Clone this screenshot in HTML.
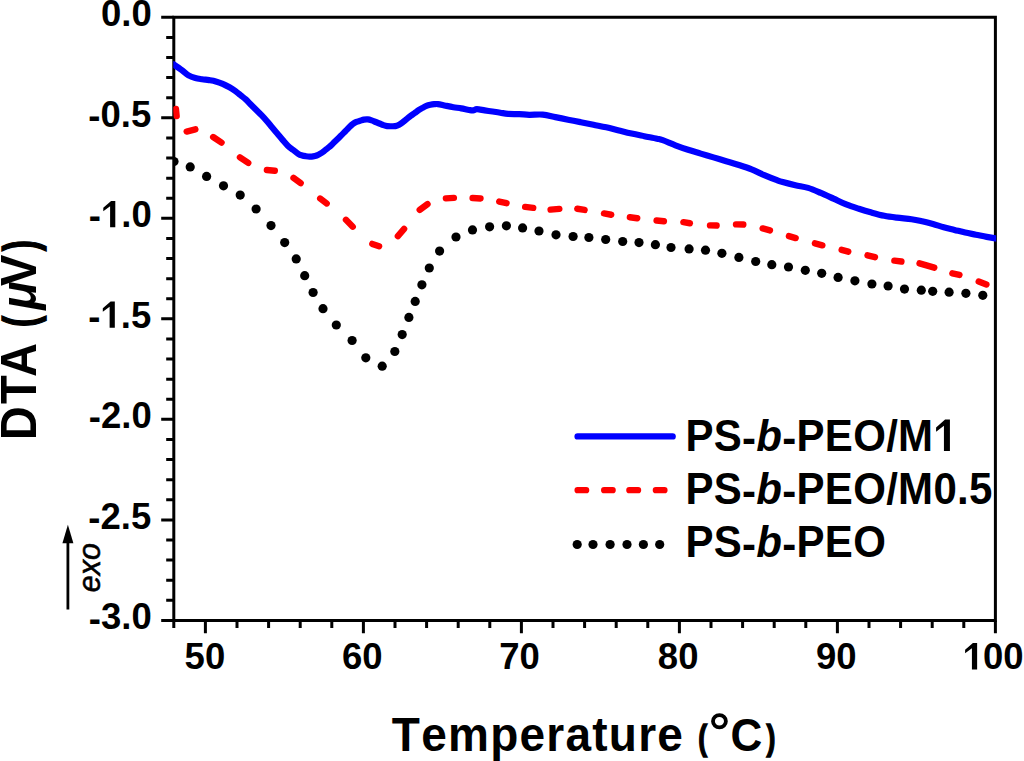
<!DOCTYPE html>
<html><head><meta charset="utf-8"><title>DTA chart</title>
<style>html,body{margin:0;padding:0;background:#fff;}body{width:1024px;height:761px;overflow:hidden;font-family:"Liberation Sans",sans-serif;}svg{display:block;}</style>
</head><body>
<svg width="1024" height="761" viewBox="0 0 1024 761" font-family="Liberation Sans, sans-serif" style="font-kerning:none">
<rect width="1024" height="761" fill="#fff"/>
<defs><clipPath id="pc"><rect x="173.3" y="0" width="822.9" height="761"/></clipPath></defs>
<path fill="none" stroke="#000" stroke-width="3" stroke-linecap="square" d="M173.8 17.3H995.4V620.4H173.8Z"/>
<path fill="none" stroke="#000" stroke-width="3" d="M161.2 17.3H173.8M166.2 37.4H173.8M166.2 57.51H173.8M166.2 77.61H173.8M166.2 97.71H173.8M161.2 117.82H173.8M166.2 137.92H173.8M166.2 158.02H173.8M166.2 178.13H173.8M166.2 198.23H173.8M161.2 218.33H173.8M166.2 238.44H173.8M166.2 258.54H173.8M166.2 278.64H173.8M166.2 298.75H173.8M161.2 318.85H173.8M166.2 338.95H173.8M166.2 359.06H173.8M166.2 379.16H173.8M166.2 399.26H173.8M161.2 419.37H173.8M166.2 439.47H173.8M166.2 459.57H173.8M166.2 479.68H173.8M166.2 499.78H173.8M161.2 519.88H173.8M166.2 539.99H173.8M166.2 560.09H173.8M166.2 580.19H173.8M166.2 600.3H173.8M161.2 620.4H173.8M173.8 620.4V627.9M205.4 620.4V633.2M237 620.4V627.9M268.6 620.4V627.9M300.2 620.4V627.9M331.8 620.4V627.9M363.4 620.4V633.2M395 620.4V627.9M426.6 620.4V627.9M458.2 620.4V627.9M489.8 620.4V627.9M521.4 620.4V633.2M553 620.4V627.9M584.6 620.4V627.9M616.2 620.4V627.9M647.8 620.4V627.9M679.4 620.4V633.2M711 620.4V627.9M742.6 620.4V627.9M774.2 620.4V627.9M805.8 620.4V627.9M837.4 620.4V633.2M869 620.4V627.9M900.6 620.4V627.9M932.2 620.4V627.9M963.8 620.4V627.9M995.4 620.4V633.2"/>
<g transform="translate(100.96 26.3) scale(1 1)" font-size="36.5"><text x="0" y="0" font-weight="bold">0</text><text x="20.3" y="0" font-weight="bold">.</text><text x="30.44" y="0" font-weight="bold">0</text></g>
<g transform="translate(88.32 126.82) scale(1 1)" font-size="36.5"><text x="0" y="1.1" font-weight="bold">-</text><text x="12.15" y="0" font-weight="bold">0</text><text x="32.45" y="0" font-weight="bold">.</text><text x="42.6" y="0" font-weight="bold">5</text></g>
<g transform="translate(88.8 227.33) scale(1 1)" font-size="36.5"><text x="0" y="1.1" font-weight="bold">-</text><text x="32.45" y="0" font-weight="bold">.</text><text x="42.6" y="0" font-weight="bold">0</text><path d="M26.5 0L26.5 -26.29L22.3 -26.29L14.49 -19.6L14.49 -16.09L21.3 -21.19L21.3 0Z"/></g>
<g transform="translate(88.32 327.85) scale(1 1)" font-size="36.5"><text x="0" y="1.1" font-weight="bold">-</text><text x="32.45" y="0" font-weight="bold">.</text><text x="42.6" y="0" font-weight="bold">5</text><path d="M26.5 0L26.5 -26.29L22.3 -26.29L14.49 -19.6L14.49 -16.09L21.3 -21.19L21.3 0Z"/></g>
<g transform="translate(88.8 428.37) scale(1 1)" font-size="36.5"><text x="0" y="1.1" font-weight="bold">-</text><text x="12.15" y="0" font-weight="bold">2</text><text x="32.45" y="0" font-weight="bold">.</text><text x="42.6" y="0" font-weight="bold">0</text></g>
<g transform="translate(88.32 528.88) scale(1 1)" font-size="36.5"><text x="0" y="1.1" font-weight="bold">-</text><text x="12.15" y="0" font-weight="bold">2</text><text x="32.45" y="0" font-weight="bold">.</text><text x="42.6" y="0" font-weight="bold">5</text></g>
<g transform="translate(88.8 629.4) scale(1 1)" font-size="36.5"><text x="0" y="1.1" font-weight="bold">-</text><text x="12.15" y="0" font-weight="bold">3</text><text x="32.45" y="0" font-weight="bold">.</text><text x="42.6" y="0" font-weight="bold">0</text></g>
<g transform="translate(184.59 669.4) scale(1 1)" font-size="36.5"><text x="0" y="0" font-weight="bold">5</text><text x="20.3" y="0" font-weight="bold">0</text></g>
<g transform="translate(342.03 669.4) scale(1 1)" font-size="36.5"><text x="0" y="0" font-weight="bold">6</text><text x="20.3" y="0" font-weight="bold">0</text></g>
<g transform="translate(499.26 669.4) scale(1 1)" font-size="36.5"><text x="0" y="0" font-weight="bold">7</text><text x="20.3" y="0" font-weight="bold">0</text></g>
<g transform="translate(657.87 669.4) scale(1 1)" font-size="36.5"><text x="0" y="0" font-weight="bold">8</text><text x="20.3" y="0" font-weight="bold">0</text></g>
<g transform="translate(815.92 669.4) scale(1 1)" font-size="36.5"><text x="0" y="0" font-weight="bold">9</text><text x="20.3" y="0" font-weight="bold">0</text></g>
<g transform="translate(962.78 669.4) scale(1 1)" font-size="36.5"><text x="20.3" y="0" font-weight="bold">0</text><text x="40.6" y="0" font-weight="bold">0</text><path d="M14.35 0L14.35 -26.29L10.14 -26.29L2.33 -19.6L2.33 -16.09L9.14 -21.19L9.14 0Z"/></g>
<g transform="translate(391.83 750.6) scale(1 1.03)" font-size="46"><text x="0" y="0" font-weight="bold">T</text><text x="29.34" y="0" font-weight="bold">e</text><text x="56.16" y="0" font-weight="bold">m</text><text x="98.3" y="0" font-weight="bold">p</text><text x="127.64" y="0" font-weight="bold">e</text><text x="154.46" y="0" font-weight="bold">r</text><text x="173.61" y="0" font-weight="bold">a</text><text x="200.43" y="0" font-weight="bold">t</text><text x="216.99" y="0" font-weight="bold">u</text><text x="246.33" y="0" font-weight="bold">r</text><text x="265.47" y="0" font-weight="bold">e</text></g>
<g font-weight="bold">
<text transform="translate(698.2 750.3) scale(0.74 0.97)" font-size="36" stroke="#000" stroke-width="1.5">(</text>
<text transform="translate(766.4 750.3) scale(0.74 0.97)" font-size="36" stroke="#000" stroke-width="1.5">)</text>
</g>
<ellipse cx="719.45" cy="721.25" rx="6.45" ry="6.05" fill="none" stroke="#000" stroke-width="3.8"/>
<g transform="translate(730.4 750.6) scale(1 1.04)" font-size="44"><text x="0" y="0" font-weight="bold">C</text></g>
<g transform="translate(36.1 0) rotate(-90) scale(1 1.07)" font-size="47"><text x="-440.34" y="0" font-weight="bold">D</text><text x="-403.93" y="0" font-weight="bold">T</text><text x="-377.07" y="0" font-weight="bold">A</text><text transform="translate(-327.04 0) scale(0.7 0.92)" stroke="#000" stroke-width="1.6" font-weight="bold">(</text><text x="-309.82" y="0" font-weight="bold" font-style="italic">μ</text><text x="-285.92" y="0" font-weight="bold">V</text><text transform="translate(-251.03 0) scale(0.7 0.92)" stroke="#000" stroke-width="1.6" font-weight="bold">)</text></g>
<path d="M67.9 609.5V540" stroke="#000" stroke-width="2.8" fill="none"/>
<path d="M67.9 524.8L62.4 543.3H73.4Z" fill="#000"/>
<g stroke="#000" stroke-width="0.55" transform="translate(99.8 592.13) rotate(-90) scale(1 1)" font-size="30.5"><text x="0" y="0" font-style="italic">e</text><text x="16.96" y="0" font-style="italic">x</text><text x="32.21" y="0" font-style="italic">o</text></g>
<path d="M577.65 436.4H672.6" stroke="#0000ff" stroke-width="6.4" stroke-linecap="round"/>
<path d="M577.55 490.2H586.2M604.1 490.2H612.7M629.3 490.2H638.1M655.8 490.2H664.5" stroke="#ff0000" stroke-width="6.2" stroke-linecap="round"/>
<g fill="#000"><circle cx="577.2" cy="544.5" r="4.6"/><circle cx="593" cy="544.5" r="4.6"/><circle cx="610.1" cy="544.5" r="4.6"/><circle cx="627" cy="544.5" r="4.6"/><circle cx="643.4" cy="544.5" r="4.6"/><circle cx="659.7" cy="544.5" r="4.6"/></g>
<g transform="translate(685.4 451) scale(1 1.04)" font-size="42"><text x="0" y="0" font-weight="bold">P</text><text x="28.31" y="0" font-weight="bold">S</text><text x="56.63" y="1.6" font-weight="bold">-</text><text x="70.91" y="0" font-weight="bold" font-style="italic">b</text><text x="96.87" y="1.6" font-weight="bold">-</text><text x="111.16" y="0" font-weight="bold">P</text><text x="139.47" y="0" font-weight="bold">E</text><text x="167.78" y="0" font-weight="bold">O</text><text x="200.75" y="0" font-weight="bold">/</text><text x="212.72" y="0" font-weight="bold">M</text><path d="M264.52 0L264.52 -30.25L259.68 -30.25L250.69 -22.56L250.69 -18.52L258.53 -24.38L258.53 0Z"/></g>
<g transform="translate(685.4 504.4) scale(1 1.04)" font-size="42"><text x="0" y="0" font-weight="bold">P</text><text x="28.31" y="0" font-weight="bold">S</text><text x="56.63" y="1.6" font-weight="bold">-</text><text x="70.91" y="0" font-weight="bold" font-style="italic">b</text><text x="96.87" y="1.6" font-weight="bold">-</text><text x="111.16" y="0" font-weight="bold">P</text><text x="139.47" y="0" font-weight="bold">E</text><text x="167.78" y="0" font-weight="bold">O</text><text x="200.75" y="0" font-weight="bold">/</text><text x="212.72" y="0" font-weight="bold">M</text><text x="248.01" y="0" font-weight="bold">0</text><text x="271.67" y="0" font-weight="bold">.</text><text x="283.63" y="0" font-weight="bold">5</text></g>
<g transform="translate(685.4 557) scale(1 1.04)" font-size="42"><text x="0" y="0" font-weight="bold">P</text><text x="28.31" y="0" font-weight="bold">S</text><text x="56.63" y="1.6" font-weight="bold">-</text><text x="70.91" y="0" font-weight="bold" font-style="italic">b</text><text x="96.87" y="1.6" font-weight="bold">-</text><text x="111.16" y="0" font-weight="bold">P</text><text x="139.47" y="0" font-weight="bold">E</text><text x="167.78" y="0" font-weight="bold">O</text></g>
<g clip-path="url(#pc)">
<path fill="none" stroke="#0000ff" stroke-width="6.2" stroke-linejoin="round" stroke-linecap="round" d="M173.5 64.35C174.87 65.29 179.2 68.17 181.7 70C184.2 71.83 186.23 73.97 188.5 75.3C190.77 76.63 193.02 77.35 195.3 78C197.58 78.65 199.92 78.85 202.2 79.2C204.48 79.55 206.73 79.73 209 80.1C211.27 80.47 213.52 80.78 215.8 81.4C218.08 82.02 220.42 82.82 222.7 83.8C224.98 84.78 227.4 86.1 229.5 87.3C231.6 88.5 233.47 89.68 235.3 91C237.13 92.32 238.75 93.8 240.5 95.2C242.25 96.6 244.05 97.82 245.8 99.4C247.55 100.98 249.25 102.93 251 104.7C252.75 106.47 254.55 108.25 256.3 110C258.05 111.75 259.75 113.37 261.5 115.2C263.25 117.03 265.05 118.98 266.8 121C268.55 123.02 270.25 125.2 272 127.3C273.75 129.4 275.53 131.5 277.3 133.6C279.07 135.7 280.85 137.88 282.6 139.9C284.35 141.92 286.05 144.03 287.8 145.7C289.55 147.37 291.3 148.5 293.1 149.9C294.9 151.3 297.08 153.17 298.6 154.1C300.12 155.03 301 155.15 302.2 155.5C303.4 155.85 304.58 156.02 305.8 156.2C307.02 156.38 308.28 156.57 309.5 156.6C310.72 156.63 311.9 156.58 313.1 156.4C314.3 156.22 315.5 155.95 316.7 155.5C317.9 155.05 319.1 154.42 320.3 153.7C321.5 152.98 322.7 152.1 323.9 151.2C325.1 150.3 326.3 149.27 327.5 148.3C328.7 147.33 329.9 146.48 331.1 145.4C332.3 144.32 333.48 143 334.7 141.8C335.92 140.6 337.18 139.4 338.4 138.2C339.62 137 340.8 135.8 342 134.6C343.2 133.4 344.4 132.22 345.6 131C346.8 129.78 348 128.45 349.2 127.3C350.4 126.15 351.6 125 352.8 124.1C354 123.2 355.2 122.45 356.4 121.9C357.6 121.35 358.75 121.18 360 120.8C361.25 120.42 362.6 119.83 363.9 119.6C365.2 119.37 366.5 119.27 367.8 119.4C369.1 119.53 370.4 119.97 371.7 120.4C373 120.83 374.3 121.48 375.6 122C376.9 122.52 378.2 122.98 379.5 123.5C380.8 124.02 382.1 124.67 383.4 125.1C384.7 125.53 385.98 125.91 387.3 126.1C388.62 126.29 389.98 126.25 391.3 126.25C392.62 126.25 393.9 126.36 395.2 126.1C396.5 125.84 397.8 125.38 399.1 124.7C400.4 124.02 401.7 122.98 403 122C404.3 121.02 405.6 119.85 406.9 118.8C408.2 117.75 409.5 116.67 410.8 115.7C412.1 114.73 413.4 113.92 414.7 113C416 112.08 417.3 111.05 418.6 110.2C419.9 109.35 421.2 108.62 422.5 107.9C423.8 107.18 425.1 106.42 426.4 105.9C427.7 105.38 429 105.08 430.3 104.8C431.6 104.52 432.95 104.32 434.2 104.2C435.45 104.08 435.9 103.85 437.8 104.1C439.7 104.35 443 105.18 445.6 105.7C448.2 106.22 450.79 106.75 453.4 107.2C456.01 107.65 458.63 107.93 461.25 108.4C463.87 108.87 467.14 109.67 469.1 110C471.06 110.33 471.7 110.53 473 110.4C474.3 110.27 474.95 109.2 476.9 109.2C478.85 109.2 482.1 110.02 484.7 110.4C487.3 110.78 489.9 111.12 492.5 111.5C495.1 111.88 497.7 112.3 500.3 112.7C502.9 113.1 504.95 113.67 508.1 113.9C511.25 114.13 515.67 113.95 519.2 114.1C522.73 114.25 525.38 114.72 529.3 114.8C533.22 114.88 538.35 114.22 542.7 114.6C547.05 114.98 551.17 116.25 555.4 117.1C559.63 117.95 563.87 118.85 568.1 119.7C572.33 120.55 576.57 121.35 580.8 122.2C585.03 123.05 589.27 123.95 593.5 124.8C597.73 125.65 601.97 126.35 606.2 127.3C610.43 128.25 614.67 129.45 618.9 130.5C623.13 131.55 627.37 132.65 631.6 133.6C635.83 134.55 640.07 135.35 644.3 136.2C648.53 137.05 653.93 138.03 657 138.7C660.07 139.37 659.63 139.1 662.7 140.2C665.77 141.3 671.17 143.7 675.4 145.3C679.63 146.9 683.87 148.42 688.1 149.8C692.33 151.18 696.57 152.33 700.8 153.6C705.03 154.87 709.27 156.13 713.5 157.4C717.73 158.67 721.97 159.93 726.2 161.2C730.43 162.47 734.67 163.63 738.9 165C743.13 166.37 747.37 167.72 751.6 169.4C755.83 171.08 760.07 173.3 764.3 175.1C768.53 176.9 773.93 179.03 777 180.2C780.07 181.37 779.63 181.25 782.7 182.1C785.77 182.95 791.17 184.33 795.4 185.3C799.63 186.27 803.87 186.63 808.1 187.9C812.33 189.17 816.57 191.12 820.8 192.9C825.03 194.68 829.27 196.68 833.5 198.6C837.73 200.52 841.97 202.7 846.2 204.4C850.43 206.1 854.67 207.43 858.9 208.8C863.13 210.17 867.37 211.43 871.6 212.6C875.83 213.77 880.07 214.95 884.3 215.8C888.53 216.65 892.47 217.13 897 217.7C901.53 218.27 907.3 218.6 911.5 219.2C915.7 219.8 918.62 220.5 922.2 221.3C925.78 222.1 929.42 223.02 933 224C936.58 224.98 940.12 226.22 943.7 227.2C947.28 228.18 950.92 229 954.5 229.9C958.08 230.8 961.63 231.8 965.2 232.6C968.77 233.4 972.32 233.98 975.9 234.7C979.48 235.42 983.35 236.27 986.7 236.9C990.05 237.53 994.45 238.23 996 238.5"/>
<path fill="none" stroke="#ff0000" stroke-width="6.4" stroke-linecap="round" d="M175.95 108.99L176.65 116.01M186.66 131.54L195.34 129.36M213.15 137.03L221.55 142.57M239.95 157.33L248.25 162.87M266.89 170.04L274.81 170.76M293.52 177.97L300.68 183.03M320.19 198.51L326.71 203.49M345.96 219.86L352.74 226.64M372.31 243.9L379.09 246.3M397.88 236.06L404.12 228.84M419.7 209.9L427.5 204.1M445.9 198.4L453.9 197.9M472.6 198.07L480.5 198.43M499.26 201.53L506.54 203.17M525.19 206.88L533.21 207.82M550.59 209.66L559.31 208.84M577.28 208.74L584.62 209.96M603.98 213.46L611.22 214.74M629.89 217.29L637.21 218.21M656.59 220.54L663.91 221.26M683.38 222.15L689.92 223.25M710 225.35L716.6 225.55M736 224.34L743.3 224.56M762.65 228.4L769.95 230.4M788.94 236.12L795.66 238.08M814.95 243.38L822.35 245.32M841.64 249.81L848.26 251.69M867.55 255.28L874.95 257.22M894.39 260.68L901.41 261.52M919.54 263.33L934.26 267.67M952.36 273.32L959.44 274.88M978.7 281.55L986.4 284.55"/>
<g fill="#000"><circle cx="174" cy="161.5" r="4.6"/><circle cx="190.2" cy="166.9" r="4.6"/><circle cx="206.6" cy="176.4" r="4.6"/><circle cx="223.5" cy="185.8" r="4.6"/><circle cx="240.2" cy="195.1" r="4.6"/><circle cx="256.1" cy="209" r="4.6"/><circle cx="271" cy="225.6" r="4.6"/><circle cx="284.7" cy="242.6" r="4.6"/><circle cx="296.2" cy="258.9" r="4.6"/><circle cx="304.7" cy="275.7" r="4.6"/><circle cx="313.1" cy="292.5" r="4.6"/><circle cx="323" cy="308.7" r="4.6"/><circle cx="336.3" cy="325" r="4.6"/><circle cx="352.1" cy="340.5" r="4.6"/><circle cx="365.8" cy="357.8" r="4.6"/><circle cx="382.2" cy="366.2" r="4.6"/><circle cx="394.8" cy="351.5" r="4.6"/><circle cx="402.2" cy="334.6" r="4.6"/><circle cx="408.9" cy="317.4" r="4.6"/><circle cx="415.2" cy="301.4" r="4.6"/><circle cx="421.9" cy="284.8" r="4.6"/><circle cx="429.3" cy="268" r="4.6"/><circle cx="439.6" cy="251.1" r="4.6"/><circle cx="456" cy="237" r="4.6"/><circle cx="472.5" cy="229.9" r="4.6"/><circle cx="489.6" cy="226.8" r="4.6"/><circle cx="506.4" cy="225.8" r="4.6"/><circle cx="522.6" cy="227.9" r="4.6"/><circle cx="539" cy="231" r="4.6"/><circle cx="556" cy="234.8" r="4.6"/><circle cx="573.1" cy="236.5" r="4.6"/><circle cx="588.9" cy="237.5" r="4.6"/><circle cx="605.7" cy="239.5" r="4.6"/><circle cx="622.7" cy="241.5" r="4.6"/><circle cx="639" cy="242.6" r="4.6"/><circle cx="655.4" cy="244.7" r="4.6"/><circle cx="671" cy="247.5" r="4.6"/><circle cx="689.1" cy="248.9" r="4.6"/><circle cx="705.5" cy="250.2" r="4.6"/><circle cx="721.9" cy="253.3" r="4.6"/><circle cx="738.9" cy="257.4" r="4.6"/><circle cx="755.7" cy="261.5" r="4.6"/><circle cx="771.8" cy="264.7" r="4.6"/><circle cx="788.5" cy="267" r="4.6"/><circle cx="805.3" cy="270.3" r="4.6"/><circle cx="821.7" cy="273.3" r="4.6"/><circle cx="838.1" cy="277.4" r="4.6"/><circle cx="854.9" cy="280.8" r="4.6"/><circle cx="871.9" cy="284" r="4.6"/><circle cx="888.1" cy="286" r="4.6"/><circle cx="904.5" cy="289.1" r="4.6"/><circle cx="921.3" cy="290.2" r="4.6"/><circle cx="932.7" cy="291.3" r="4.6"/><circle cx="949.1" cy="292.2" r="4.6"/><circle cx="965.9" cy="293.3" r="4.6"/><circle cx="982.8" cy="295.3" r="4.6"/></g>
</g>
</svg>
</body></html>
